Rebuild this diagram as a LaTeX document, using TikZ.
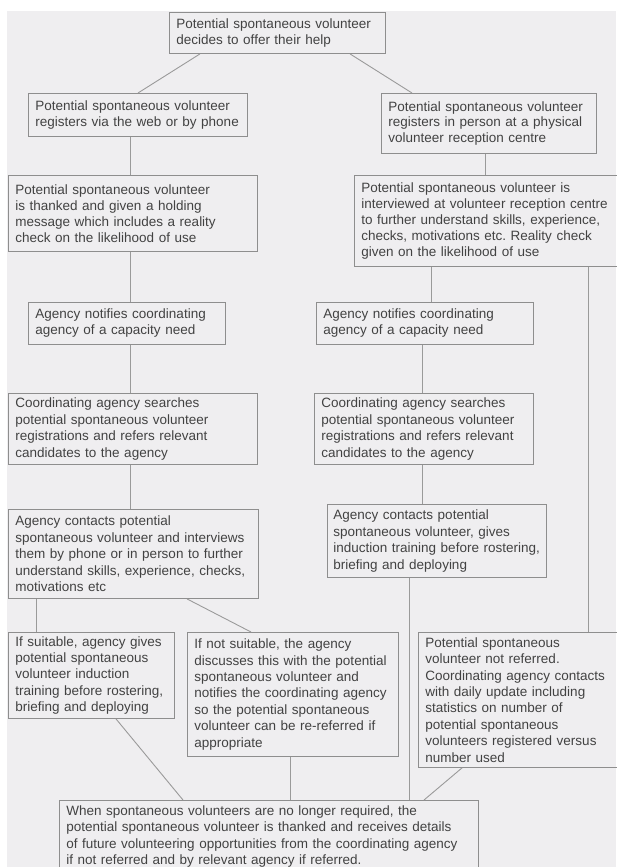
\documentclass[tikz,border=0pt]{standalone}
\usepackage{fontspec}
\setmainfont{Liberation Sans}
\frenchspacing
\definecolor{bgc}{HTML}{EFEEF0}
\definecolor{boxc}{HTML}{8E8E8E}
\definecolor{linec}{HTML}{9A9A9A}
\definecolor{txtc}{HTML}{424242}
\tikzset{
  fbox/.style={draw=boxc, line width=0.9pt, anchor=north west, align=left,
    inner xsep=7pt, inner ysep=0pt, text=txtc,
    font=\fontsize{13.5}{15.9}\selectfont},
  fboxl/.style={fbox, font=\fontsize{13.5}{16.4}\selectfont},
  conn/.style={draw=linec, line width=0.9pt}
}
\begin{document}
\begin{tikzpicture}[x=1pt,y=-1pt]
\useasboundingbox (0,0) rectangle (616,867);
\fill[white] (0,0) rectangle (616,867);
\fill[bgc] (7,11) rectangle (616,867);

% x positions for connectors
\foreach \xx in {36,116,130,138,183,187,200,251,290,350,409,412,422,424,431,462,485,588}
  {\coordinate (x\xx) at (\xx,0);}

\node[fbox, text width=202pt, minimum height=41pt] (n1) at (169,12)
  {Potential spontaneous volunteer\\decides to offer their help};
\node[fbox, text width=205pt, minimum height=43pt] (n2) at (28,93)
  {Potential spontaneous volunteer\\registers via the web or by phone};
\node[fbox, text width=201pt, minimum height=60pt] (n3) at (381,93)
  {Potential spontaneous volunteer\\registers in person at a physical\\volunteer reception centre};
\node[fbox, text width=235pt, minimum height=76pt] (n4) at (8,175)
  {Potential spontaneous volunteer\\is thanked and given a holding\\message which includes a reality\\check on the likelihood of use};
\node[fbox, text width=254pt, minimum height=91pt] (n5) at (354,175)
  {Potential spontaneous volunteer is\\interviewed at volunteer reception centre\\to further understand skills, experience,\\checks, motivations etc. Reality check\\given on the likelihood of use};
\node[fbox, text width=183pt, minimum height=42pt] (n6) at (28,302)
  {Agency notifies coordinating\\agency of a capacity need};
\node[fbox, text width=203pt, minimum height=42pt] (n7) at (316,302)
  {Agency notifies coordinating\\agency of a capacity need};
\node[fboxl, text width=235pt, minimum height=71pt] (n8) at (8,393)
  {Coordinating agency searches\\potential spontaneous volunteer\\registrations and refers relevant\\candidates to the agency};
\node[fboxl, text width=205pt, minimum height=71pt] (n9) at (314,393)
  {Coordinating agency searches\\potential spontaneous volunteer\\registrations and refers relevant\\candidates to the agency};
\node[fboxl, text width=236pt, minimum height=89pt] (n10) at (8,509)
  {Agency contacts potential\\spontaneous volunteer and interviews\\them by phone or in person to further\\understand skills, experience, checks,\\motivations etc};
\node[fboxl, inner xsep=6pt, text width=207pt, minimum height=73pt] (n11) at (327,504)
  {Agency contacts potential\\spontaneous volunteer, gives\\induction training before rostering,\\briefing and deploying};
\node[fboxl, text width=152pt, minimum height=86pt] (n12) at (8,632)
  {If suitable, agency gives\\potential spontaneous\\volunteer induction\\training before rostering,\\briefing and deploying};
\node[fboxl, text width=197pt, minimum height=124pt] (n13) at (187,632)
  {If not suitable, the agency\\discusses this with the potential\\spontaneous volunteer and\\notifies the coordinating agency\\so the potential spontaneous\\volunteer can be re-referred if\\appropriate};
\node[fboxl, text width=190pt, minimum height=135pt] (n14) at (418,632)
  {Potential spontaneous\\volunteer not referred.\\Coordinating agency contacts\\with daily update including\\statistics on number of\\potential spontaneous\\volunteers registered versus\\number used};
\node[fboxl, text width=405pt, minimum height=72pt] (n15) at (59,800)
  {When spontaneous volunteers are no longer required, the\\potential spontaneous volunteer is thanked and receives details\\of future volunteering opportunities from the coordinating agency\\if not referred and by relevant agency if referred.};

% connectors
\draw[conn] (n1.south -| x200) -- (n2.north -| x138);
\draw[conn] (n1.south -| x350) -- (n3.north -| x412);
\draw[conn] (n2.south -| x130) -- (n4.north -| x130);
\draw[conn] (n3.south -| x485) -- (n5.north -| x485);
\draw[conn] (n4.south -| x130) -- (n6.north -| x130);
\draw[conn] (n5.south -| x431) -- (n7.north -| x431);
\draw[conn] (n5.south -| x588) -- (n14.north -| x588);
\draw[conn] (n6.south -| x130) -- (n8.north -| x130);
\draw[conn] (n7.south -| x422) -- (n9.north -| x422);
\draw[conn] (n8.south -| x130) -- (n10.north -| x130);
\draw[conn] (n9.south -| x422) -- (n11.north -| x422);
\draw[conn] (n11.south -| x409) -- (n15.north -| x409);
\draw[conn] (n10.south -| x36) -- (n12.north -| x36);
\draw[conn] (n10.south -| x187) -- (n13.north -| x251);
\draw[conn] (n12.south -| x116) -- (n15.north -| x183);
\draw[conn] (n13.south -| x290) -- (n15.north -| x290);
\draw[conn] (n14.south -| x462) -- (n15.north -| x424);
\end{tikzpicture}
\end{document}
